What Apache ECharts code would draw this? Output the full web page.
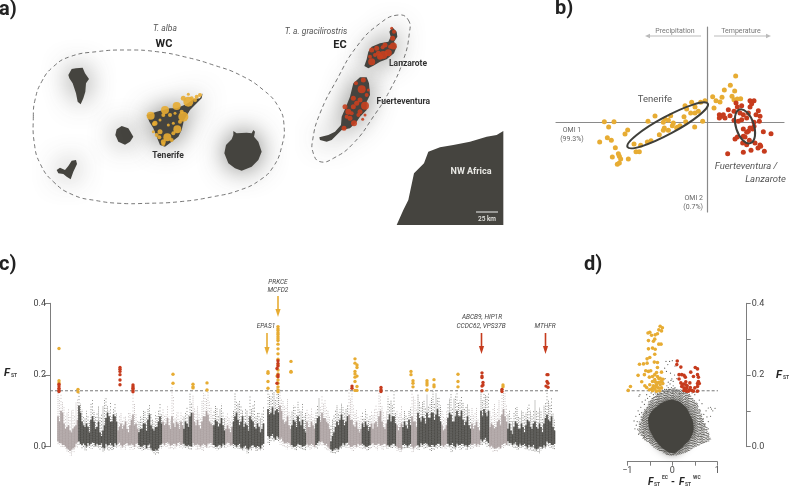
<!DOCTYPE html>
<html><head><meta charset="utf-8">
<script src="https://cdn.jsdelivr.net/npm/echarts@6/dist/echarts.min.js"></script>
<style>html,body{margin:0;padding:0;background:#fff}#c{width:789px;height:488px}</style></head>
<body><div id="c"></div>
<script>
/* ---------- panel a: map outlines, map units ---------- */
const islandWest = [
 [[205,225],[215,207],[228,205],[248,203],[255,220],[267,237],[258,250],[256,275],[250,295],[242,313],[233,305],[228,280],[218,250],[208,235]],
 [[346,405],[350,388],[365,378],[385,385],[400,410],[390,425],[375,434],[355,425]],
 [[170,510],[180,503],[195,510],[205,498],[215,482],[228,480],[231,492],[220,515],[212,538],[200,530],[190,522],[175,520]],
 [[608,280],[600,295],[580,298],[560,312],[530,325],[510,325],[490,330],[470,335],[440,345],[448,365],[460,385],[470,410],[480,435],[495,440],[515,425],[535,410],[545,390],[552,360],[570,330],[590,310],[605,295]],
 [[700,393],[710,400],[740,398],[755,400],[760,390],[765,395],[762,410],[775,425],[785,455],[775,480],[755,500],[725,512],[705,505],[685,490],[673,460],[678,435],[695,418],[700,405]]
];
const islandEast = [
 [[1168,95],[1177,82],[1190,95],[1192,110],[1182,125],[1190,140],[1182,160],[1160,178],[1140,185],[1120,197],[1105,205],[1093,198],[1100,178],[1105,155],[1115,140],[1140,130],[1165,125],[1172,110]],
 [[1080,232],[1100,232],[1107,250],[1110,285],[1100,305],[1100,330],[1080,350],[1070,365],[1050,385],[1025,390],[1010,405],[995,420],[980,425],[960,420],[958,412],[985,405],[1005,395],[1023,375],[1025,350],[1038,320],[1050,290],[1060,250]]
];
const africaOutline = [[1190,675],[1210,630],[1225,600],[1242,520],[1272,490],[1285,455],[1320,442],[1360,435],[1410,425],[1460,410],[1490,405],[1510,393],[1510,675]];
const wcOutline = [[100,350],[105,300],[125,245],[160,200],[210,170],[290,155],[380,150],[470,155],[560,172],[640,195],[720,225],[790,270],[835,320],[852,375],[845,440],[820,500],[780,540],[720,570],[640,590],[540,605],[440,610],[360,610],[290,602],[220,585],[160,545],[120,490],[103,430]];
const ecOutline = [[1225,60],[1228,100],[1210,180],[1170,270],[1120,350],[1060,430],[1000,475],[960,485],[940,460],[938,420],[960,340],[1010,240],[1070,140],[1140,70],[1195,45]];
const siteOrange = [[452,347,8],[495,330,8],[530,318,8],[565,305,10],[550,350,10],[532,388,8],[502,412,8],[465,370,5],[490,345,4],[480,395,5],[490,425,5],[520,400,4],[545,335,4],[590,290,4],[600,285,4],[550,295,5],[470,405,4],[510,345,4],[540,365,4],[565,283,3],[462,372,4],[585,300,4],[575,295,4],[490,432,4],[515,420,4],[460,395,3],[525,340,3],[480,360,3],[505,375,3],[520,370,3],[478,412,4]];
const siteRed = [[1115,185,7],[1150,165,8],[1165,158,7],[1180,138,7],[1140,170,6],[1115,150,5],[1130,145,5],[1155,135,5],[1182,95,4],[1178,115,5],[1110,170,4],[1135,160,5],[1170,140,4],[1175,85,3],[1125,165,4],[1148,142,4],
 [1085,268,8],[1095,317,8],[1070,310,5],[1045,335,6],[1060,320,5],[1080,300,5],[1035,320,5],[1050,355,5],[1080,335,5],[1062,370,6],[1032,385,5],[1090,240,5],[1068,250,4],[1105,270,3],[1100,285,4],[1088,358,3],[1060,295,5],[1075,345,4],[1040,350,4],[1055,340,4],[1095,345,3]];

/* ---------- panel b: OMI scores ---------- */
const omiTenerife = [[-310,3],[-281,3],[-297,-13],[-240,-22],[-248,-34],[-301,-45],[-289,-53],[-324,-58],[-277,-75],[-268,-93],[-286,-103],[-265,-101],[-261,-109],[-238,-109],[-271,-125],[-265,-121],[-221,-64],[-215,-87],[-205,-87],[-201,-68],[-181,-58],[-170,-54],[-145,-36],[-179,4],[-158,20],[-128,11],[-111,21],[-133,1],[-118,7],[-130,-16],[-133,-23],[-118,-23],[-106,-9],[-91,-14],[-83,-9],[-66,3],[-71,18],[-68,51],[-48,61],[-38,47],[-51,29],[-38,29],[-28,34],[-39,-13],[-15,4],[-21,61],[-8,66],[15,78],[19,44],[25,66],[37,62],[43,76],[50,98],[68,112],[84,140],[81,95],[73,79],[79,69],[89,71],[99,72],[-63,41],[-93,-16],[-103,-1]];
const omiEastern = [[35,24],[35,14],[42,19],[52,14],[62,39],[67,21],[79,34],[85,59],[89,47],[102,51],[127,66],[139,66],[132,57],[127,47],[107,24],[122,29],[152,36],[145,24],[155,4],[139,1],[102,9],[92,4],[79,7],[107,-19],[122,-26],[135,-19],[107,-41],[82,-49],[89,-43],[112,-43],[117,-66],[125,-53],[167,-27],[190,-33],[142,-61],[157,-67],[151,-76],[159,-71],[170,-86],[130,-83],[107,-89],[60,-93],[139,-11],[127,-16],[117,-29],[105,-61],[47,24],[97,29],[157,19],[117,14]];
const omiEllipses = [[-120,-8,137,26,28.4],[112,-11,53,27,-72]];

/* ---------- panel c: FST along the genome, FST x 1000 per window ---------- */
const genomeStart = 58, windowStep = 3;
const chromEnds = [78,117,138,162,183,193,213,225,233,280,292,306,315,320,330,348,362,371,387,397,402,411,417,441,447,471,480,489,507,556];
const chromDark = [0,1,0,1,0,1,0,1,0,1,0,1,0,1,0,1,0,1,0,1,0,1,0,1,0,1,0,1,0,1];
const whiskerTop = [155,150,110,95,85,105,125, 150,105,80,90,120,100,95,85,115,135,100,85,125, 70,95,85,75,95,155,90, 70,85,100,105,95,70,85,120, 105,90,85,170,80,100,95, 85,110,150, 145,100,95,130,150,160,110, 100,110,105,95, 85,80,90, 150,120,115,90,100,140,115,85,100,95, null, 160,140,155,165,160, 130,115,100, 100,115,125,100,85, 105,90,90, 100,135, 145,130,100, 60,90,115,105,110,105, 165,150,95,85,90, 80,90,85, 90,120,160,115,85, 140,130,155, 100,95, 85,90,100, 160,130, 145,110,130,145,125,160,150,140, 100,80, 120,150,135,165,130,125,115,105, 110,95,80, 155,155,140, 100,110,95,130,165,155, 90,80,95,110,85,100,95,120,85,130,95,100,115,165,120,95];
const coreTop = [85,100,65,55,45,50,60, 115,70,55,55,75,70,55,40,45,80,85,70,85, 45,65,60,50,60,90,65, 40,50,65,75,60,45,55,85, 70,65,60,85,55,65,70, 50,65,85, 95,60,60,70,85,90,65, 60,70,65,60, 50,50,55, 85,75,70,55,60,85,70,50,55,50, null, 105,95,90,105,115, 75,70,60, 60,70,85,60,50, 70,55,60, 65,85, 95,80,65, 15,40,70,75,75,70, 90,75,55,50,50, 55,60,55, 50,70,85,70,50, 75,70,85, 60,55, 55,60,75, 85,70, 95,70,80,95,80,95,90,85, 60,50, 80,90,70,100,85,75,70,60, 65,60,55, 100,105,85, 55,60,55,75,90,85, 50,45,55,65,50,55,60,70,50,70,50,55,65,90,70,55];
const coreLow = [15,10,5,-5,-12,-5,8, 15,5,5,10,8,10,8,5,-2,8,5,5,10, 8,5,5,10,5,5,8, 5,0,5,5,-5,-12,-10,5, 10,10,8,5,8,10,5, 8,2,2, 10,5,5,5,5,8,10, 5,0,5,8, 8,10,5, 5,5,-3,0,-5,-2,5,-2,0,5, null, 30,30,25,30,20, 15,10,10, 5,0,8,5,2, 8,5,5, 5,15, 15,5,0, -8,-8,-5,0,10,10, 5,0,5,8,5, 5,0,5, 10,5,8,5,8, 5,5,8, 0,-3, 5,5,5, 0,0, 5,10,8,8,0,5,5,8, 5,5, 8,5,2,8,5,8,5,5, 5,8,8, 20,20,15, 0,-2,-5,0,5,10, 15,10,8,5,8,5,2,5,0,-5,-5,0,5,15,10,5];
const whiskerLow = [5,0,-5,-15,-25,-15,-2, 5,-5,-10,-3,-5,-3,-2,-8,-15,-8,-12,-10,-3, -3,-8,-8,-2,-8,-8,-3, -8,-12,-8,-8,-15,-22,-20,-5, 0,-2,-5,-8,-5,-2,-5, -3,-8,-10, 0,-8,-8,-12,-5,-3,-2, -5,-10,-5,-3, -3,0,-5, -5,-5,-12,-10,-18,-12,-5,-12,-10,-8, null, 5,15,15,15,5, 0,-8,-2, -5,-12,-3,-8,-10, -3,-8,-5, -5,3, 3,-8,-12, -18,-20,-15,-8,0,-2, -5,-12,-5,-3,-5, -5,-10,-5, -2,-10,-3,-8,-5, -5,-5,-3, -12,-16, -5,-5,-5, -15,-8, -8,0,-5,-3,-12,-8,-5,-3, -5,-5, -3,-15,-8,-2,-8,-3,-8,-5, -5,-3,0, 5,5,0, -8,-15,-15,-8,-5,0, 3,0,-3,-8,-3,-5,-8,-10,-12,-15,-18,-12,-5,0,-3,-8];
const coreTopMid = [70,95,50,60,40,55,75, 95,60,65,40,85,50,70,30,60,95,70,90,70, 55,50,70,40,75,60,50, 50,65,45,90,50,55,70,65, 60,80,50,65,70,50,60, 70,55,95, 70,75,50,85,100,70,60, 75,55,80,45, 60,40,70, 95,60,85,65,45,75,55,65,40,65, null, 90,110,100,95,100, 65,85,50, 75,55,70,75,40, 55,70,50, 80,70, 80,70,50, 30,55,60,90,60,85, 75,60,70,40,65, 70,45,65, 65,55,100,55,65, 90,85,65, 45,65, 70,50,60, 70,55, 80,85,65,80,95,75,105,70, 45,60, 95,70,85,85,100,60,85,50, 50,70,45, 85,95,100, 65,50,70,60,105,70, 65,35,70,50,65,40,75,55,65,55,65,40,80,75,85,45];
const coreLowMid = [10,5,0,-8,-8,-2,12, 8,10,0,5,12,3,5,10,-5,3,10,0,5, 12,0,8,5,8,0,10, 0,5,-5,8,-10,-8,-5,8, 5,12,3,8,3,12,8, 3,5,0, 5,8,0,8,0,10,5, 0,5,0,5, 12,5,8, 0,8,-5,3,-8,3,0,2,-5,8, null, 25,35,20,25,25, 10,12,5, 0,3,5,0,5, 3,8,0, 10,12, 10,8,-5, -12,-5,-8,3,5,12, 0,3,0,5,8, 0,3,8, 5,8,3,8,3, 0,8,3, -5,-8, 8,0,8, -5,3, 0,5,10,3,5,0,8,3, 0,8, 3,10,-2,5,8,3,0,8, 8,3,5, 15,25,10, 3,-5,-2,-5,8,5, 10,5,12,0,3,8,-3,0,5,-8,0,-3,0,10,5,8];
const whiskerTopMid = [135,125,85,105,100,90,135, 120,85,100,70,130,85,115,95,135,115,125,105,95, 85,75,85,100,85,120,75, 85,100,80,120,75,95,100,90, 90,115,75,140,95,75,85, 95,90,125, 110,115,80,150,135,125,90, 115,90,120,80, 95,70,100, 125,130,100,110,85,105,130,95,80,110, null, 145,155,130,150,135, 115,135,85, 115,90,105,120,95, 95,110,80, 115,110, 120,110,85, 75,105,95,120,95,115, 135,115,105,70,100, 105,75,100, 105,100,140,100,100, 125,115,95, 85,115, 100,80,110, 140,110, 125,125,110,115,135,120,135,115, 90,100, 135,110,145,125,140,105,120,85, 90,110,70, 130,145,150, 85,120,105,90,150,120, 100,70,110,85,100,85,110,100,105,100,110,80,125,130,135,75];
const outlierOrange = [[59,.274],[59,.184],[59,.178],[78,.160],[78,.153],[173,.202],[173,.177],[193,.174],[193,.167],[193,.164],[207,.178],[207,.158],[268,.209],[268,.205],[268,.182],[268,.163],
 [278,.335],[278,.329],[278,.324],[278,.318],[278,.313],[278,.307],[278,.301],[278,.296],[278,.286],[278,.273],[278,.259],[278,.244],[278,.228],[278,.214],[278,.203],[277,.197],[278,.186],[278,.177],[278,.167],[278,.158],[278,.153],
 [291,.238],[291,.210],[291,.208],[355,.245],[355,.233],[357,.228],[357,.221],[355,.210],[355,.203],[357,.197],[355,.194],[355,.182],[357,.168],[355,.157],[357,.157],[411,.210],[411,.201],[413,.184],[413,.177],[413,.167],[427,.184],[427,.178],[427,.172],[427,.158],[434,.187],[434,.172],[434,.167],[458,.202],[458,.182],[458,.167],[503,.172],[503,.167]];
const outlierRed = [[59,.174],[59,.169],[59,.163],[59,.158],[59,.154],[120,.221],[120,.216],[120,.210],[120,.201],[120,.186],[120,.173],[133,.172],[133,.167],[133,.163],[133,.158],[133,.153],[278,.240],[278,.232],[278,.225],[277,.218],[278,.200],[278,.195],[277,.177],
 [352,.169],[352,.163],[381,.165],[381,.159],[381,.154],[482,.206],[482,.197],[482,.193],[483,.179],[483,.172],[482,.169],[482,.156],[502,.160],[502,.154],[547,.201],[548,.201],[547,.182],[548,.177],[546,.169],[548,.166]];
const cThreshold = 0.156;

/* ---------- panel d: FST vs delta FST ---------- */
const dOrange = [[-.27,.336],[-.22,.332],[-.30,.326],[-.24,.323],[-.33,.315],[-.50,.319],[-.54,.317],[-.46,.311],[-.38,.312],[-.39,.300],[-.53,.296],[-.42,.294],[-.30,.286],[-.25,.286],[-.44,.275],[-.53,.273],[-.38,.272],[-.39,.258],[-.50,.249],[-.56,.245],[-.40,.236],[-.73,.230],[-.64,.231],[-.56,.233],[-.33,.235],[-.33,.221],[-.59,.212],[-.53,.210],[-.48,.212],[-.76,.199],[-.62,.201],[-.35,.207],[-.24,.208],[-.68,.181],[-.51,.194],[-.44,.196],[-.39,.201],[-.33,.196],[-.27,.191],[-.21,.188],[-.39,.187],[-.44,.182],[-.31,.179],[-.24,.182],[-.50,.173],[-.57,.165],[-.42,.170],[-.35,.173],[-.27,.173],[-.21,.176],[-.51,.159],[-.46,.161],[-.39,.161],[-.31,.164],[-.24,.164],[-.35,.155],[-.93,.168],[-.98,.157],[-.61,.170],[-.44,.156],[-.28,.156],[-.37,.180],[-.30,.190],[-.26,.181],[-.43,.165],[-.36,.167]];
const dRed = [[.11,.239],[.10,.229],[.19,.222],[.51,.221],[.56,.217],[.41,.208],[.15,.201],[.21,.201],[.26,.199],[.29,.194],[.56,.201],[.58,.194],[.47,.196],[.30,.181],[.15,.189],[.19,.178],[.25,.175],[.30,.173],[.39,.178],[.58,.182],[.56,.176],[.60,.176],[.21,.168],[.26,.164],[.32,.164],[.38,.159],[.43,.157],[.50,.164],[.56,.168],[.26,.157],[.32,.155],[.47,.155],[.56,.155],[.36,.155],[.33,.170],[.29,.160],[.22,.173],[.40,.165]];
const cloudX = [-.76,-.72,-.68,-.64,-.6,-.56,-.52,-.48,-.44,-.4,-.36,-.32,-.28,-.24,-.2,-.16,-.12,-.08,-.04,0,.04,.08,.12,.16,.2,.24,.28,.32,.36,.4,.44,.48,.52,.56,.6,.64,.68,.72,.76,.8,.84];
const cloudTop = [.05,.07,.085,.095,.105,.11,.122,.13,.136,.141,.146,.15,.153,.155,.157,.159,.16,.161,.162,.163,.163,.162,.161,.16,.159,.158,.156,.153,.147,.142,.137,.131,.125,.118,.105,.092,.08,.068,.055,.04,.025];
const cloudBottom = [.045,.035,.028,.022,.018,.014,.01,.006,.002,-.002,-.006,-.009,-.012,-.015,-.018,-.02,-.022,-.024,-.025,-.025,-.025,-.024,-.023,-.022,-.02,-.019,-.017,-.015,-.012,-.01,-.006,-.003,0,.002,.004,.006,.008,.01,.012,.015,.02];
const dCloudCore = [[.02,.13],[.24,.117],[.39,.09],[.47,.06],[.43,.03],[.28,.006],[.13,-.011],[.02,-.018],[-.16,-.009],[-.31,.008],[-.46,.036],[-.53,.064],[-.5,.09],[-.31,.115],[-.16,.126]];
const dGrain = [[-.72,.145],[-.74,.141],[-.6,.13],[-.55,.135],[-.5,.14],[-.62,.118],[-.7,.11],[-.68,.095],[-.73,.09],[-.78,.07],[-.8,.06],[-.83,.05],[-.66,.075],[-.6,.05],[-.65,.04],[-.58,.095],[-.55,.11],[-.52,.125],[-.57,.145],[-.67,.125],[-.76,.1],[-.81,.085],[-.85,.072],[-.71,.062],[-.75,.035],[-.62,.028],[-.53,.03],[-.47,.15],[-.42,.145],[-.38,.15],[-.33,.145],
 [.85,.11],[.87,.105],[.8,.108],[.75,.1],[.6,.13],[.5,.145],[.55,.12],[.62,.1],[.7,.09],[.72,.06],[.6,.065],[.65,.05],[.8,.07],[.8,.05],[.5,.04],[.58,.03],[.85,.085],[.66,.12],[.77,.083],[.9,.1],[.95,.107],[.7,.035],[.64,.028],[.53,.152],[.44,.15],[.38,.146],
 [-.1,.152],[0,.15],[.08,.154],[-.25,.148],[.17,.148],[.25,.15],[.3,.153],[-.18,.153],
 [-.14,.238],[-.06,.238],[-.1,.229],[-.17,.219],[-.13,.21],[-.04,.205],[-.16,.19],[-.09,.18],[-.2,.18],[-.12,.17],[-.05,.175],[-.01,.189],[.02,.17],[-.02,.165],[-.09,.165],[-.13,.16],[-.17,.16],[-.06,.16],[.06,.165],[.09,.158],[-.03,.185],[.05,.2],[.1,.19],[.06,.225],[0,.24],[-.22,.158],[.02,.182]];
const dThreshold = 0.156;

/* ---------- helpers ---------- */
const DARK='#45443f', GREY='#a79c9c', ORANGE='#e7ac33', RED='#c63b1d', FONT='Roboto, "Noto Sans", sans-serif';
const windows = [];
whiskerTop.forEach((w,i)=>{
  if(w===null) return;
  const x = genomeStart + windowStep*i;
  const k = chromEnds.findIndex(e=>x<e);
  windows.push([x, w, coreTop[i], coreLow[i], whiskerLow[i], chromDark[k], i*2]);
  const xm = x+windowStep/2, km = chromEnds.findIndex(e=>xm<e);
  windows.push([xm, whiskerTopMid[i], coreTopMid[i], coreLowMid[i], whiskerLow[i], chromDark[km], i*2+1]);
});
const cloudCols = cloudX.map((x,i)=>[x,cloudTop[i],cloudBottom[i],i]);
function txt(text,x,y,o={}){return {type:'text',x,y,silent:true,z:50,style:Object.assign({text,fill:'#444',font:(o.style||'')+' '+(o.weight||'normal')+' '+(o.size||9)+'px '+FONT,textAlign:o.align||'center',textVerticalAlign:'middle'},o.fill?{fill:o.fill}:{})};}
function arrow(x1,y1,x2,y2,color,w,hl,hw){
  const dx=x2-x1,dy=y2-y1,L=Math.hypot(dx,dy),ux=dx/L,uy=dy/L,bx=x2-ux*hl,by=y2-uy*hl;
  return [{type:'line',silent:true,z:40,shape:{x1,y1,x2:bx,y2:by},style:{stroke:color,lineWidth:w}},
          {type:'polygon',silent:true,z:40,shape:{points:[[x2,y2],[bx-uy*hw,by+ux*hw],[bx+uy*hw,by-ux*hw]]},style:{fill:color}}];
}
function fst(x,y,size){return [txt('F',x,y,{style:'italic',weight:'bold',size:size,fill:'#222',align:'left'}),txt('ST',x+size*.64,y+2.5,{weight:'bold',size:5,fill:'#444',align:'left'})];}
function polySeries(name,rings,style,gridIdx,extra){
  return Object.assign({type:'custom',name,xAxisIndex:gridIdx,yAxisIndex:gridIdx,coordinateSystem:'cartesian2d',silent:true,
    data:rings.map((r,i)=>[i]),clip:false,
    encode:{x:0,y:0},
    renderItem:(p,api)=>({type:'polygon',shape:{points:rings[p.dataIndex].map(c=>api.coord(c)),smooth:style.smooth||0},style:style.style})},extra||{});
}
function dots(name,data,color,size,gridIdx,z){
  return {type:'scatter',name,data,xAxisIndex:gridIdx,yAxisIndex:gridIdx,symbolSize:size,silent:true,clip:false,z:z||5,itemStyle:{color,opacity:1},emphasis:{disabled:true}};
}
const graphicEls = [
  txt('a)',-1,10,{size:20,weight:'bold',fill:'#222',align:'left'}),
  txt('b)',555,9,{size:20,weight:'bold',fill:'#222',align:'left'}),
  txt('c)',-1,265,{size:20,weight:'bold',fill:'#222',align:'left'}),
  txt('d)',584,265,{size:20,weight:'bold',fill:'#222',align:'left'}),
  txt('T. alba',165,29,{style:'italic',size:8.5,fill:'#555'}),
  txt('WC',164,44,{weight:'bold',size:11,fill:'#222'}),
  txt('Tenerife',168,156,{weight:'bold',size:8.5,fill:'#333'}),
  txt('T. a. gracilirostris',316,32,{style:'italic',size:8.5,fill:'#555'}),
  txt('EC',340,45,{weight:'bold',size:11,fill:'#222'}),
  txt('Lanzarote',408,64,{weight:'bold',size:8.5,fill:'#333'}),
  txt('Fuerteventura',430,102,{weight:'bold',size:8.5,fill:'#333',align:'right'}),
  txt('NW Africa',471,172,{weight:'bold',size:9,fill:'#e8e8e4'}),
  txt('25 km',487,219,{size:6.5,weight:500,fill:'#e8e8e4'}),
  {type:'line',silent:true,z:50,shape:{x1:476,y1:212,x2:498,y2:212},style:{stroke:'#eee',lineWidth:1}},
  txt('Precipitation',675,31,{size:7,fill:'#777'}),
  txt('Temperature',741,31,{size:7,fill:'#777'}),
  ...arrow(701,36,645,36,'#bbb',1,5,2.2),
  ...arrow(714,36,771,36,'#bbb',1,5,2.2),
  txt('OMI 1',572,130,{size:7,fill:'#666'}),
  txt('(99.3%)',572,139,{size:7,fill:'#666'}),
  txt('OMI 2',703,198,{size:7,fill:'#666',align:'right'}),
  txt('(0.7%)',703,207,{size:7,fill:'#666',align:'right'}),
  txt('Tenerife',655,100,{size:9.5,fill:'#555'}),
  txt('Fuerteventura /',746,167,{style:'italic',size:9.5,fill:'#555'}),
  txt('Lanzarote',786,180,{style:'italic',size:9.5,fill:'#555',align:'right'}),
  txt('PRKCE',278,282,{style:'italic',size:6.5}),
  txt('MCFD2',278,290,{style:'italic',size:6.5}),
  txt('EPAS1',266,326,{style:'italic',size:6.5}),
  txt('ABCB9, HIP1R',482,317,{style:'italic',size:6.5}),
  txt('CCDC62, VPS37B',481,326,{style:'italic',size:6.5}),
  txt('MTHFR',545,326,{style:'italic',size:6.5}),
  ...arrow(267,333,267,355,ORANGE,1.6,8,2.6),
  ...arrow(278,296,278,317,ORANGE,1.6,8,2.6),
  ...arrow(481.5,333,481.5,354,RED,1.6,8,2.6),
  ...arrow(545.5,333,545.5,354,RED,1.6,8,2.6),
  ...fst(4,373,11),
  ...fst(776,375,11),
  txt('F',648,482,{style:'italic',weight:'bold',size:10,fill:'#222',align:'left'}),
  txt('ST',654,484.5,{weight:'bold',size:5,fill:'#444',align:'left'}),
  txt('EC',662,478,{weight:'bold',size:5,fill:'#444',align:'left'}),
  txt('-',673,482,{weight:'bold',size:10,fill:'#222'}),
  txt('F',679,482,{style:'italic',weight:'bold',size:10,fill:'#222',align:'left'}),
  txt('ST',685,484.5,{weight:'bold',size:5,fill:'#444',align:'left'}),
  txt('WC',693,478,{weight:'bold',size:5,fill:'#444',align:'left'})
];
const axisGrey={lineStyle:{color:'#7d7d7d',width:1}};
const option = {
  animation:false, backgroundColor:'#fff',
  graphic:{elements:graphicEls},
  grid:[
    {left:0,top:0,width:530,height:240},
    {left:556,top:27,width:228,height:185},
    {left:50,top:303.3,width:510,height:143.4},
    {left:627.3,top:303.3,width:90,height:143.4}
  ],
  xAxis:[
    {gridIndex:0,type:'value',min:0,max:1590,show:false},
    {gridIndex:1,type:'value',min:-455,max:229,axisLine:{onZero:true,lineStyle:{color:'#8a8a8a',width:1.2}},axisTick:{show:false},axisLabel:{show:false},splitLine:{show:false}},
    {gridIndex:2,type:'value',min:50,max:560,show:false},
    {gridIndex:3,type:'value',min:-1,max:1,interval:.5,position:'bottom',offset:15,axisLine:{onZero:false,...axisGrey},axisTick:{length:4,...axisGrey},splitLine:{show:false},
      axisLabel:{margin:5,fontSize:9,fontFamily:'Roboto',color:'#444',formatter:v=>v===-1?'\u22121':(v===0?'0':(v===1?'1':''))}}
  ],
  yAxis:[
    {gridIndex:0,type:'value',min:0,max:720,inverse:true,show:false},
    {gridIndex:1,type:'value',min:-268,max:287,axisLine:{onZero:true,lineStyle:{color:'#8a8a8a',width:1.2}},axisTick:{show:false},axisLabel:{show:false},splitLine:{show:false}},
    {gridIndex:2,type:'value',min:0,max:.4,interval:.2,axisLine:{show:true,onZero:false,...axisGrey},axisTick:{show:true,length:6,...axisGrey},splitLine:{show:false},
      axisLabel:{margin:4,fontSize:9,fontFamily:'Roboto',color:'#444',formatter:v=>v.toFixed(1)}},
    {gridIndex:3,type:'value',min:0,max:.4,interval:.1,position:'right',offset:29.4,axisLine:{show:true,onZero:false,...axisGrey},axisTick:{show:true,length:4,...axisGrey},splitLine:{show:false},
      axisLabel:{margin:5,fontSize:9,fontFamily:'Roboto',color:'#444',formatter:v=>(Math.round(v*10)%2===0?v.toFixed(1):'')}}
  ],
  series:[
    /* a */
    polySeries('region WC',[wcOutline],{smooth:.5,style:{fill:'none',stroke:'#555',lineWidth:.8,lineDash:[4,3]}},0,{z:1}),
    polySeries('region EC',[ecOutline],{smooth:.5,style:{fill:'none',stroke:'#555',lineWidth:.8,lineDash:[4,3]}},0,{z:1}),
    polySeries('islands',islandWest.concat(islandEast),{style:{fill:DARK,shadowBlur:26,shadowColor:'rgba(60,60,55,.7)'}},0,{z:2}),
    polySeries('Africa',[africaOutline],{style:{fill:DARK}},0,{z:2}),
    {type:'scatter',name:'sites west',xAxisIndex:0,yAxisIndex:0,data:siteOrange,symbolSize:d=>d[2],silent:true,z:3,itemStyle:{color:ORANGE,opacity:.9}},
    {type:'scatter',name:'sites east',xAxisIndex:0,yAxisIndex:0,data:siteRed,symbolSize:d=>d[2],silent:true,z:3,itemStyle:{color:'#c8401f',opacity:.9}},
    /* b */
    dots('Tenerife',omiTenerife,ORANGE,5,1),
    dots('Fuerteventura / Lanzarote',omiEastern,RED,5,1),
    {type:'custom',name:'ellipses',xAxisIndex:1,yAxisIndex:1,silent:true,z:6,clip:false,data:omiEllipses,encode:{x:0,y:1},
     renderItem:(p,api)=>{const e=omiEllipses[p.dataIndex],c=api.coord([e[0],e[1]]),s=api.size([1,1]);
       return {type:'ellipse',x:c[0],y:c[1],rotation:e[4]*Math.PI/180,shape:{cx:0,cy:0,rx:e[2]*s[0],ry:e[3]*s[1]},style:{fill:'none',stroke:'#3f3f3a',lineWidth:2}};}},
    /* c */
    {type:'custom',name:'genome FST',xAxisIndex:2,yAxisIndex:2,silent:true,z:2,clip:false,data:windows,encode:{x:0,y:1},
     renderItem:(p,api)=>{
       const x=api.value(0),col=api.value(5)?DARK:GREY,k=api.value(6);
       const P=v=>api.coord([x,v/1000]);
       const a=P(api.value(1)),b=P(api.value(2)),c=P(api.value(3)),d=P(api.value(4));
       return {type:'group',children:[
         {type:'line',shape:{x1:a[0],y1:a[1],x2:d[0],y2:d[1]},style:{stroke:col,lineWidth:.8,lineDash:[1,1+(k%3)*.6],lineDashOffset:k*.7,opacity:.75}},
         {type:'line',shape:{x1:b[0],y1:b[1],x2:c[0],y2:c[1]},style:{stroke:col,lineWidth:1.7,opacity:.9}}
       ]};}},
    {type:'line',name:'threshold c',xAxisIndex:2,yAxisIndex:2,data:[[50,cThreshold],[558,cThreshold]],symbol:'none',silent:true,z:4,lineStyle:{color:'#777',width:1,type:[3,2]}},
    dots('outliers Tenerife',outlierOrange,ORANGE,3.4,2,5),
    dots('outliers East',outlierRed,RED,3.4,2,6),
    /* d */
    {type:'custom',name:'cloud columns',xAxisIndex:3,yAxisIndex:3,silent:true,z:2,clip:false,data:cloudCols,encode:{x:0,y:1},
     renderItem:(p,api)=>{
       const x=api.value(0),k=api.value(3),t=api.value(1),b=api.value(2),kids=[];
       [[-.013,0],[0,1],[.013,2]].forEach(o=>{
         const A=api.coord([x+o[0],t]),B=api.coord([x+o[0],b]);
         kids.push({type:'line',shape:{x1:A[0],y1:A[1],x2:B[0],y2:B[1]},style:{stroke:DARK,lineWidth:.9,lineDash:[1,.9+((k+o[1])%4)*.35],lineDashOffset:(k*3+o[1])*.8,opacity:.8}});
       });
       return {type:'group',children:kids};}},
    polySeries('cloud core',[dCloudCore],{smooth:.5,style:{fill:DARK,shadowBlur:10,shadowColor:'rgba(69,68,63,1)'}},3,{z:2}),
    dots('cloud grain',dGrain,'#5a5954',1.2,3,3),
    {type:'line',name:'threshold d',xAxisIndex:3,yAxisIndex:3,data:[[-1.57,dThreshold],[1.64,dThreshold]],symbol:'none',silent:true,z:4,clip:false,lineStyle:{color:'#777',width:1,type:[3,2]}},
    dots('d Tenerife',dOrange,ORANGE,3.6,3,5),
    dots('d East',dRed,RED,3.6,3,5)
  ]
};
const chart = echarts.init(document.getElementById('c'),null,{renderer:'canvas'});
chart.setOption(option);
</script></body></html>
